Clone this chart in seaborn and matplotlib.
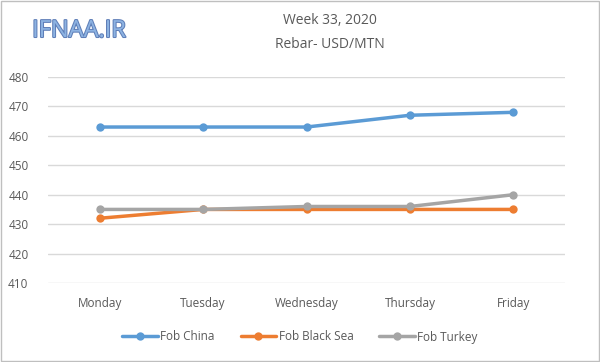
import matplotlib
matplotlib.use("Agg")
import matplotlib.pyplot as plt
import matplotlib.patheffects as pe
import pandas as pd
import seaborn as sns

days = ["Monday", "Tuesday", "Wednesday", "Thursday", "Friday"]
fob_china = [463, 463, 463, 467, 468]
fob_black_sea = [432, 435, 435, 435, 435]
fob_turkey = [435, 435, 436, 436, 440]
series_names = ["Fob China", "Fob Black Sea", "Fob Turkey"]
colors = ["#5B9BD5", "#ED7D31", "#A5A5A5"]

df = pd.DataFrame({"day": days * 3,
                   "price": fob_china + fob_black_sea + fob_turkey,
                   "series": [n for n in series_names for _ in days]})

sns.set_theme(style="white")
plt.rcParams["font.family"] = ["Open Sans", "DejaVu Sans"]

fig = plt.figure(figsize=(6, 3.62), dpi=100)
ax = fig.add_axes([48 / 600, 1 - 283 / 362, 517 / 600, 206 / 362])

sns.lineplot(data=df, x="day", y="price", hue="series", palette=colors,
             marker="o", markersize=6, markeredgewidth=0, linewidth=2.5,
             sort=False, ax=ax)

ax.set_xlim(-0.5, 4.5)
ax.set_ylim(410, 480)
ax.set_yticks(range(410, 481, 10))
ax.grid(axis="y", color="#D9D9D9", linewidth=1)
ax.set_axisbelow(True)
for s in ax.spines.values():
    s.set_visible(False)
ax.tick_params(axis="both", labelsize=8.5, colors="#595959", length=0)
ax.tick_params(axis="x", pad=10)
ax.tick_params(axis="y", pad=14)
ax.set_xlabel("")
ax.set_ylabel("")

ax.legend(loc="center", bbox_to_anchor=(252 / 517, -54 / 206), ncol=3,
          frameon=False, fontsize=8.5, handlelength=3, columnspacing=2.2,
          handletextpad=0.2, labelcolor="#595959")

fig.text(330 / 600, 1 - 20 / 362, "Week 33, 2020", ha="center", va="center",
         fontsize=10, color="#595959")
fig.text(330 / 600, 1 - 44 / 362, "Rebar- USD/MTN", ha="center", va="center",
         fontsize=10, color="#595959")
fig.text(79 / 600, 1 - 31 / 362, "IFNAA.IR", ha="center", va="center",
         fontsize=17, color="#8DB3E2",
         path_effects=[pe.withStroke(linewidth=1.5, foreground="#5F7FB8")])

fig.patches.append(plt.Rectangle((0.002, 0.003), 0.996, 0.994, transform=fig.transFigure,
                                 fill=False, edgecolor="#BFBFBF", linewidth=1))

fig.savefig("out.png", dpi=100)
